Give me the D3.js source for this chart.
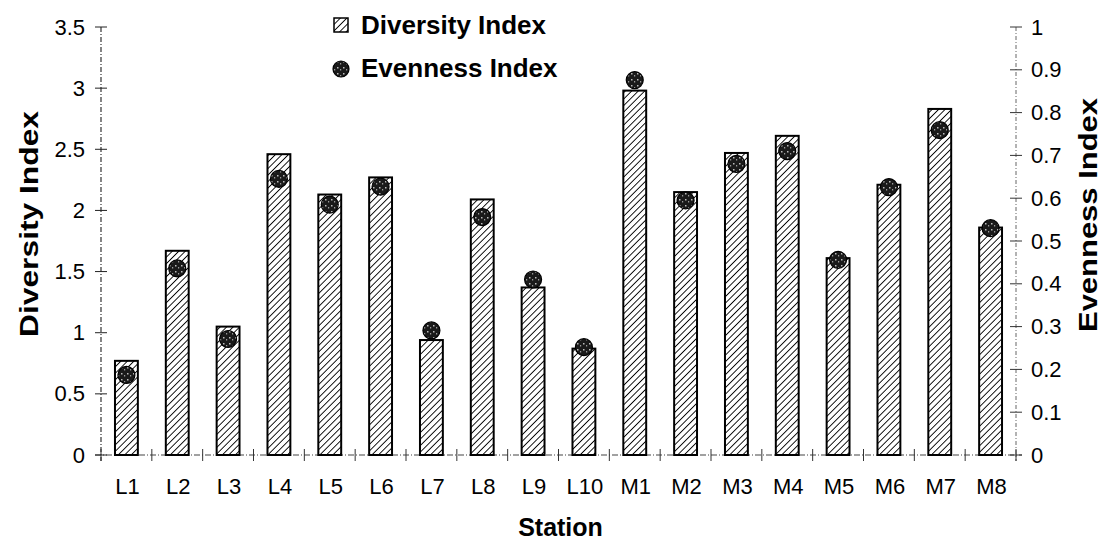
<!DOCTYPE html>
<html>
<head>
<meta charset="utf-8">
<script src="https://cdn.jsdelivr.net/npm/d3@7"></script>
<style>
  body { margin: 0; background: #fff; }
  text { font-family: "Liberation Sans", Arial, sans-serif; fill: #000; }
</style>
</head>
<body>
<div id="chart"></div>
<script>
// station chart: diversity bars (left axis) + evenness dots (right axis)
var stations = ["L1", "L2", "L3", "L4", "L5", "L6", "L7", "L8", "L9", "L10",
	"M1", "M2", "M3", "M4", "M5", "M6", "M7", "M8"];
var diversity = [0.77, 1.67, 1.05, 2.46, 2.13, 2.27, 0.94, 2.09, 1.37, 0.87,
	2.98, 2.15, 2.47, 2.61, 1.61, 2.21, 2.83, 1.86];
var evenness = [0.187, 0.436, 0.271, 0.645, 0.585, 0.627, 0.291, 0.556, 0.41, 0.252,
	0.876, 0.595, 0.68, 0.71, 0.456, 0.626, 0.759, 0.53];
var leftTicks = [0, 0.5, 1, 1.5, 2, 2.5, 3, 3.5];
var rightTicks = [0, 0.1, 0.2, 0.3, 0.4, 0.5, 0.6, 0.7, 0.8, 0.9, 1];

var width = 1103, height = 540;
// plot box (note: "top" is taken by window.top)
var pLeft = 101, pRight = 1016, pTop = 27, pBottom = 455;

var svg = d3.select("#chart")
	.append("svg")
	.attr("width", width)
	.attr("height", height);

var defs = svg.append("defs");

// hatch for the bars
var hatch = defs.append("pattern")
	.attr("id", "hatch")
	.attr("patternUnits", "userSpaceOnUse")
	.attr("width", 4.6)
	.attr("height", 4.6)
	.attr("patternTransform", "rotate(45)");
hatch.append("rect").attr("width", 4.6).attr("height", 4.6).attr("fill", "#fff");
hatch.append("line")
	.attr("x1", 0).attr("y1", 0).attr("x2", 0).attr("y2", 4.6)
	.attr("stroke", "#000").attr("stroke-width", 1.8);

// speckled fill for the dots
var speck = defs.append("pattern")
	.attr("id", "speck")
	.attr("patternUnits", "userSpaceOnUse")
	.attr("width", 6)
	.attr("height", 6);
speck.append("rect").attr("width", 6).attr("height", 6).attr("fill", "#1a1a1a");
speck.append("rect").attr("x", 1).attr("y", 1).attr("width", 1.5).attr("height", 1.5).attr("fill", "#bbb");
speck.append("rect").attr("x", 4).attr("y", 3).attr("width", 1.2).attr("height", 1.5).attr("fill", "#999");

var x = d3.scaleBand()
	.domain(stations)
	.range([pLeft, pRight])
	.paddingInner(0.55)
	.paddingOuter(0.275);

var yL = d3.scaleLinear().domain([0, 3.5]).range([pBottom, pTop]);
var yR = d3.scaleLinear().domain([0, 1]).range([pBottom, pTop]);

// axis lines (dash-dot, like the scan)
svg.append("line")
	.attr("x1", pLeft).attr("x2", pLeft).attr("y1", pTop).attr("y2", pBottom + 6)
	.attr("stroke", "#333").attr("stroke-width", 1.2).attr("stroke-dasharray", "5,2,1,2");
svg.append("line")
	.attr("x1", pRight).attr("x2", pRight).attr("y1", pTop).attr("y2", pBottom + 6)
	.attr("stroke", "#666").attr("stroke-width", 1).attr("stroke-dasharray", "4,2,1,2");
svg.append("line")
	.attr("x1", pLeft - 6).attr("x2", pRight + 6).attr("y1", pBottom).attr("y2", pBottom)
	.attr("stroke", "#444").attr("stroke-width", 1.2).attr("stroke-dasharray", "6,2,1,2");

// left ticks
var gl = svg.append("g");
gl.selectAll("line")
	.data(leftTicks)
	.enter()
	.append("line")
	.attr("x1", pLeft - 6).attr("x2", pLeft + 6)
	.attr("y1", function(d) { return yL(d); })
	.attr("y2", function(d) { return yL(d); })
	.attr("stroke", "#222").attr("stroke-width", 1);
gl.selectAll("text")
	.data(leftTicks)
	.enter()
	.append("text")
	.attr("x", pLeft - 16)
	.attr("y", function(d) { return yL(d) + 7.5; })
	.attr("text-anchor", "end")
	.attr("font-size", "22px")
	.text(function(d) { return d; });

// right ticks
var gr = svg.append("g");
gr.selectAll("line")
	.data(rightTicks)
	.enter()
	.append("line")
	.attr("x1", pRight - 6).attr("x2", pRight + 6)
	.attr("y1", function(d) { return yR(d); })
	.attr("y2", function(d) { return yR(d); })
	.attr("stroke", "#333").attr("stroke-width", 1);
gr.selectAll("text")
	.data(rightTicks)
	.enter()
	.append("text")
	.attr("x", pRight + 15)
	.attr("y", function(d) { return yR(d) + 7.5; })
	.attr("font-size", "22px")
	.text(function(d) { return d; });

// x ticks at band edges
var edges = stations.map(function(s) { return x(s) - (x.step() - x.bandwidth()) / 2; });
edges.push(pRight);
svg.selectAll(".xtick")
	.data(edges)
	.enter()
	.append("line")
	.attr("class", "xtick")
	.attr("x1", function(d) { return d; })
	.attr("x2", function(d) { return d; })
	.attr("y1", pBottom - 6).attr("y2", pBottom + 6)
	.attr("stroke", "#333").attr("stroke-width", 1);

svg.selectAll(".xlab")
	.data(stations)
	.enter()
	.append("text")
	.attr("class", "xlab")
	.attr("x", function(d) { return x(d) + x.bandwidth() / 2 + 1; })
	.attr("y", 494)
	.attr("text-anchor", "middle")
	.attr("font-size", "22px")
	.text(function(d) { return d; });

// bars
svg.selectAll(".bar")
	.data(diversity)
	.enter()
	.append("rect")
	.attr("class", "bar")
	.attr("x", function(d, i) { return x(stations[i]); })
	.attr("y", function(d) { return yL(d); })
	.attr("width", x.bandwidth())
	.attr("height", function(d) { return pBottom - yL(d); })
	.attr("fill", "url(#hatch)")
	.attr("stroke", "#000")
	.attr("stroke-width", 2);

// evenness dots
svg.selectAll(".dot")
	.data(evenness)
	.enter()
	.append("circle")
	.attr("class", "dot")
	.attr("cx", function(d, i) { return x(stations[i]) + x.bandwidth() / 2; })
	.attr("cy", function(d) { return yR(d); })
	.attr("r", 8.5)
	.attr("fill", "url(#speck)")
	.attr("stroke", "#000")
	.attr("stroke-width", 1.2);

// axis titles (the scan's type is drawn wide, so stretch to length)
svg.append("text")
	.attr("transform", "translate(38,224) rotate(-90)")
	.attr("text-anchor", "middle")
	.attr("font-size", "26px")
	.attr("font-weight", "bold")
	.attr("textLength", 226)
	.attr("lengthAdjust", "spacingAndGlyphs")
	.text("Diversity Index");
svg.append("text")
	.attr("transform", "translate(1097,215) rotate(-90)")
	.attr("text-anchor", "middle")
	.attr("font-size", "26px")
	.attr("font-weight", "bold")
	.attr("textLength", 234)
	.attr("lengthAdjust", "spacingAndGlyphs")
	.text("Evenness Index");
svg.append("text")
	.attr("x", (pLeft + pRight) / 2 + 2)
	.attr("y", 536)
	.attr("text-anchor", "middle")
	.attr("font-size", "25px")
	.attr("font-weight", "bold")
	.text("Station");

// legend
var lg = svg.append("g");
lg.append("rect")
	.attr("x", 334).attr("y", 18).attr("width", 14).attr("height", 14)
	.attr("fill", "url(#hatch)").attr("stroke", "#000").attr("stroke-width", 1.5);
lg.append("text")
	.attr("x", 361).attr("y", 34)
	.attr("font-size", "26px").attr("font-weight", "bold")
	.text("Diversity Index");
lg.append("circle")
	.attr("cx", 341).attr("cy", 69).attr("r", 8)
	.attr("fill", "url(#speck)").attr("stroke", "#000").attr("stroke-width", 1.2);
lg.append("text")
	.attr("x", 361).attr("y", 77)
	.attr("font-size", "26px").attr("font-weight", "bold")
	.text("Evenness Index");
</script>
</body>
</html>
